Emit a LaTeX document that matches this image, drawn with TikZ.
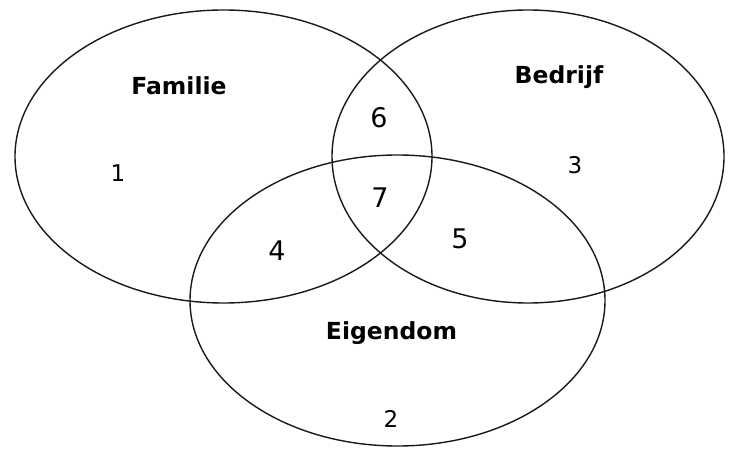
\documentclass[tikz,border=0pt]{standalone}
\usepackage{fontspec}
\setmainfont{DejaVu Sans}
\begin{document}
\begin{tikzpicture}[x=1pt, y=-1pt,
  set/.style={draw=black!90, line width=1.4pt},
  lab/.style={anchor=base, inner sep=0pt, font=\bfseries\fontsize{23.5}{28}\selectfont},
  num/.style={anchor=base, inner sep=0pt, font=\fontsize{27}{32}\selectfont},
  sml/.style={anchor=base, inner sep=0pt, font=\fontsize{23}{28}\selectfont}]
  \useasboundingbox (0,0) rectangle (739,449);
  % the three sets
  \draw[set] (223.5,156.5) ellipse [x radius=208.5, y radius=146.5];
  \draw[set] (528,156.5) ellipse [x radius=196, y radius=146.5];
  \draw[set] (397.5,300.5) ellipse [x radius=207.5, y radius=145.5];
  % names
  \node[lab] (familie) at (179,95) {Familie};
  \node[lab] (bedrijf) at (559,84) {Bedrijf};
  \node[lab] (eigendom) at (391.5,339) {Eigendom};
  % regions
  \node[sml] (r1) at (118,182) {1};
  \node[sml] (r2) at (391,427) {2};
  \node[sml] (r3) at (575,174) {3};
  \node[num] (r4) at (277,260) {4};
  \node[num] (r5) at (460,248) {5};
  \node[num] (r6) at (379,128) {6};
  \node[num] (r7) at (380,208) {7};
\end{tikzpicture}
\end{document}
